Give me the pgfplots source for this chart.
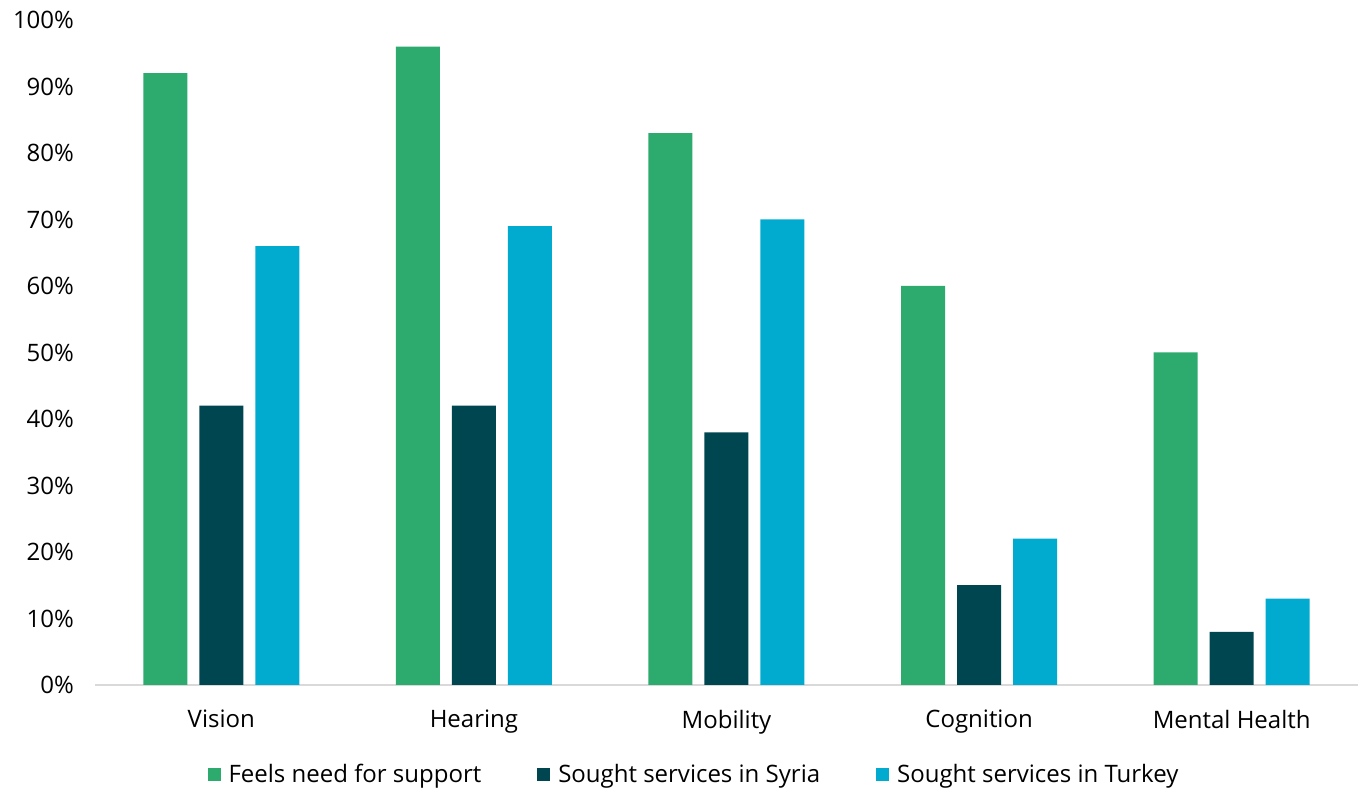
\documentclass[border=0pt]{standalone}
\usepackage{pgfplots}
\pgfplotsset{compat=1.18}
\usepackage{fontspec}
\setmainfont{Open Sans}
\definecolor{cgreen}{HTML}{2DAB6F}
\definecolor{cdark}{HTML}{004650}
\definecolor{ccyan}{HTML}{00ABCF}
\definecolor{caxis}{HTML}{D9D9D9}
\begin{document}
\begin{tikzpicture}
\useasboundingbox (-47.5pt,-53pt) rectangle (633.5pt,342.5pt);
\begin{axis}[
  at={(0,0)}, anchor=south west,
  scale only axis, width=631.5pt, height=332.5pt,
  font=\fontsize{12}{14}\selectfont,
  ybar=6pt, bar width=22pt,
  xmin=-0.5, xmax=4.5, ymin=0, ymax=100,
  xtick={0,1,2,3,4},
  xticklabels={Vision,Hearing,Mobility,Cognition,Mental Health},
  ytick={0,10,...,100},
  yticklabel={\pgfmathprintnumber{\tick}\%},
  /pgf/number format/assume math mode=true,
  axis x line*=bottom, axis y line*=left,
  x axis line style={caxis, line width=1pt, -},
  y axis line style={draw=none},
  major tick length=0pt,
  xticklabel style={yshift=-9pt, text=black},
  yticklabel style={xshift=-7pt, text=black},
  legend style={at={(300pt,-45pt)}, anchor=center, draw=none, fill=none,
    legend columns=3, /tikz/every even column/.append style={column sep=26pt},
    /tikz/every odd column/.append style={column sep=2pt},
    font=\fontsize{12}{14}\selectfont},
  legend image code/.code={\fill[#1] (0pt,-3.25pt) rectangle (6.5pt,3.25pt);},
  legend cell align=left,
  clip=false,
]
\addplot[fill=cgreen, draw=none] coordinates {(0,92) (1,96) (2,83) (3,60) (4,50)};
\addplot[fill=cdark, draw=none] coordinates {(0,42) (1,42) (2,38) (3,15) (4,8)};
\addplot[fill=ccyan, draw=none] coordinates {(0,66) (1,69) (2,70) (3,22) (4,13)};
\legend{Feels need for support, Sought services in Syria, Sought services in Turkey}
\end{axis}
\end{tikzpicture}
\end{document}
